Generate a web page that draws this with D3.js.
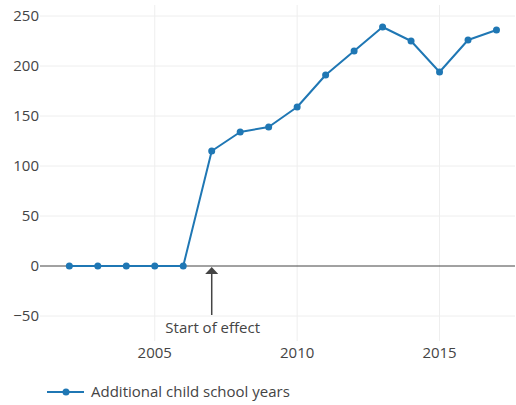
<!DOCTYPE html>
<html>
<meta charset="utf-8">
<style>
  body { margin: 0; background: #fff; }
  text { font-family: 'Open Sans', sans-serif; font-size: 15px; fill: #444; }
</style>
<body>
<svg width="516" height="405"></svg>
<script src="https://d3js.org/d3.v7.min.js"></script>
<script>

var years = [2002, 2003, 2004, 2005, 2006, 2007, 2008, 2009, 2010, 2011, 2012, 2013, 2014, 2015, 2016, 2017];
var schoolYears = [0, 0, 0, 0, 0, 115, 134, 139, 159, 191, 215, 239, 225, 194, 226, 236];
var xTicks = [2005, 2010, 2015];
var yTicks = [-50, 0, 50, 100, 150, 200, 250];
var seriesName = "Additional child school years";
var annotationYear = 2007;
var annotationText = "Start of effect";

var svg = d3.select("svg"),
    plot = {left: 40, right: 515, top: 5, bottom: 341},
    blue = "#1f77b4";

var x = d3.scaleLinear().domain([2000.97, 2017.65]).range([plot.left, plot.right]),
    y = d3.scaleLinear().domain([-75, 261]).range([plot.bottom, plot.top]);

// grid
svg.append("g").selectAll("line")
    .data(xTicks).enter().append("line")
    .attr("x1", function(d) { return x(d); })
    .attr("x2", function(d) { return x(d); })
    .attr("y1", plot.top).attr("y2", plot.bottom)
    .attr("stroke", "#eee").attr("stroke-width", 1);

svg.append("g").selectAll("line")
    .data(yTicks.filter(function(d) { return d !== 0; })).enter().append("line")
    .attr("x1", plot.left).attr("x2", plot.right)
    .attr("y1", function(d) { return y(d); })
    .attr("y2", function(d) { return y(d); })
    .attr("stroke", "#eee").attr("stroke-width", 1);

// zero line
svg.append("line")
    .attr("x1", plot.left).attr("x2", plot.right)
    .attr("y1", y(0)).attr("y2", y(0))
    .attr("stroke", "#444").attr("stroke-width", 1);

// tick labels
svg.append("g").selectAll("text")
    .data(yTicks).enter().append("text")
    .attr("x", plot.left - 1)
    .attr("y", function(d) { return y(d); })
    .attr("dy", "0.35em")
    .attr("text-anchor", "end")
    .text(function(d) { return d < 0 ? "\u2212" + Math.abs(d) : d; });

svg.append("g").selectAll("text")
    .data(xTicks).enter().append("text")
    .attr("x", function(d) { return x(d); })
    .attr("y", 353)
    .attr("dy", "0.35em")
    .attr("text-anchor", "middle")
    .text(function(d) { return d; });

// series
var data = years.map(function(d, i) { return {year: d, value: schoolYears[i]}; });

var line = d3.line()
    .x(function(d) { return x(d.year); })
    .y(function(d) { return y(d.value); });

svg.append("path")
    .datum(data)
    .attr("fill", "none")
    .attr("stroke", blue)
    .attr("stroke-width", 2)
    .attr("stroke-linejoin", "round")
    .attr("d", line);

svg.append("g").selectAll("circle")
    .data(data).enter().append("circle")
    .attr("cx", function(d) { return x(d.year); })
    .attr("cy", function(d) { return y(d.value); })
    .attr("r", 3.5)
    .attr("fill", blue);

// annotation arrow
var ax = x(annotationYear), tipY = y(0) + 1;
svg.append("line")
    .attr("x1", ax).attr("x2", ax)
    .attr("y1", tipY + 6).attr("y2", 315)
    .attr("stroke", "#444").attr("stroke-width", 1.5);
svg.append("path")
    .attr("d", "M" + ax + "," + tipY + "L" + (ax + 6.5) + "," + (tipY + 7) + "L" + (ax - 6.5) + "," + (tipY + 7) + "Z")
    .attr("fill", "#444");
svg.append("text")
    .attr("x", ax + 1)
    .attr("y", 328)
    .attr("dy", "0.35em")
    .attr("text-anchor", "middle")
    .text(annotationText);

// legend
var legend = svg.append("g").attr("transform", "translate(47,392)");
legend.append("line")
    .attr("x1", 0).attr("x2", 37).attr("y1", 0).attr("y2", 0)
    .attr("stroke", blue).attr("stroke-width", 2);
legend.append("circle").attr("cx", 19).attr("cy", 0).attr("r", 3.5).attr("fill", blue);
legend.append("text")
    .attr("x", 44).attr("y", 0).attr("dy", "0.35em")
    .text(seriesName);

</script>
</body>
</html>
